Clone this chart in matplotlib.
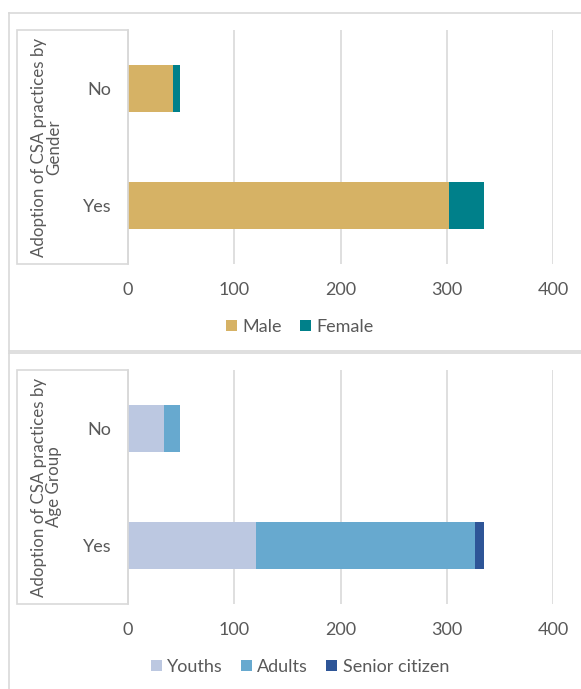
import matplotlib
matplotlib.use('Agg')
import matplotlib.pyplot as plt
from matplotlib.patches import Rectangle
from matplotlib.lines import Line2D
import numpy as np

# Data
categories = ['No', 'Yes']
male = [42, 302]
female = [7, 33]
youths = [34, 120]
adults = [15, 207]
senior = [0, 8]
x_ticks = [0, 100, 200, 300, 400]

plt.rcParams['font.family'] = ['Lato', 'DejaVu Sans']
TEXT = '#595959'
GRID = '#D9D9D9'

W, H = 581, 689
fig = plt.figure(figsize=(W / 100, H / 100), dpi=100)


def px_rect(x0, y0, x1, y1):
    # pixel coords (top-left origin) -> figure fraction rect
    return [x0 / W, 1 - y1 / H, (x1 - x0) / W, (y1 - y0) / H]


def fig_line(x0, y0, x1, y1, lw=1.2):
    fig.lines.append(Line2D([x0 / W, x1 / W], [1 - y0 / H, 1 - y1 / H],
                            transform=fig.transFigure, color=GRID, linewidth=lw))


def panel(top, series, labels, colors, ylabel):
    ax = fig.add_axes(px_rect(128, top + 17, 553, top + 251))
    y = np.arange(len(categories))
    left = np.zeros(len(categories))
    for vals, lab, col in zip(series, labels, colors):
        ax.barh(y, vals, left=left, height=0.4, color=col, label=lab, zorder=3)
        left += np.array(vals)
    ax.set_ylim(1.5, -0.5)
    ax.set_xlim(0, 400)
    ax.set_xticks(x_ticks)
    ax.set_yticks(y)
    ax.set_yticklabels(categories)
    ax.tick_params(length=0, labelsize=13, colors=TEXT)
    ax.tick_params(axis='x', pad=13)
    ax.tick_params(axis='y', pad=12)
    ax.xaxis.grid(True, color=GRID, linewidth=1.2, zorder=0)
    for s in ['top', 'right', 'bottom']:
        ax.spines[s].set_visible(False)
    ax.spines['left'].set_color(GRID)
    ax.spines['left'].set_linewidth(1.2)
    ax.set_ylabel(ylabel, fontsize=12.2, color=TEXT, labelpad=15, linespacing=0.95)

    # box around the category label area
    fig.patches.append(Rectangle((17 / W, 1 - (top + 251) / H), (128 - 17) / W, 234 / H,
                                 transform=fig.transFigure, fill=False,
                                 edgecolor=GRID, linewidth=1.2))
    # panel border (right edge is cut off in the original)
    fig_line(9, top, W, top)
    fig_line(9, top, 9, top + 338)

    leg = fig.legend(*ax.get_legend_handles_labels(), loc='center',
                     bbox_to_anchor=(300 / W, 1 - (top + 314) / H), ncol=len(labels),
                     frameon=False, fontsize=13, handlelength=0.6, handleheight=0.6,
                     handletextpad=0.3, columnspacing=1.0)
    for t in leg.get_texts():
        t.set_color(TEXT)
    return ax


panel(13, [male, female], ['Male', 'Female'], ['#D6B265', '#00808A'],
      'Adoption of CSA practices by\nGender')
fig_line(9, 351, W, 351)
panel(353, [youths, adults, senior], ['Youths', 'Adults', 'Senior citizen'],
      ['#BCC8E1', '#67A9CF', '#2E5597'],
      'Adoption of CSA practices by\nAge Group')

fig.savefig('out.png', dpi=100)
